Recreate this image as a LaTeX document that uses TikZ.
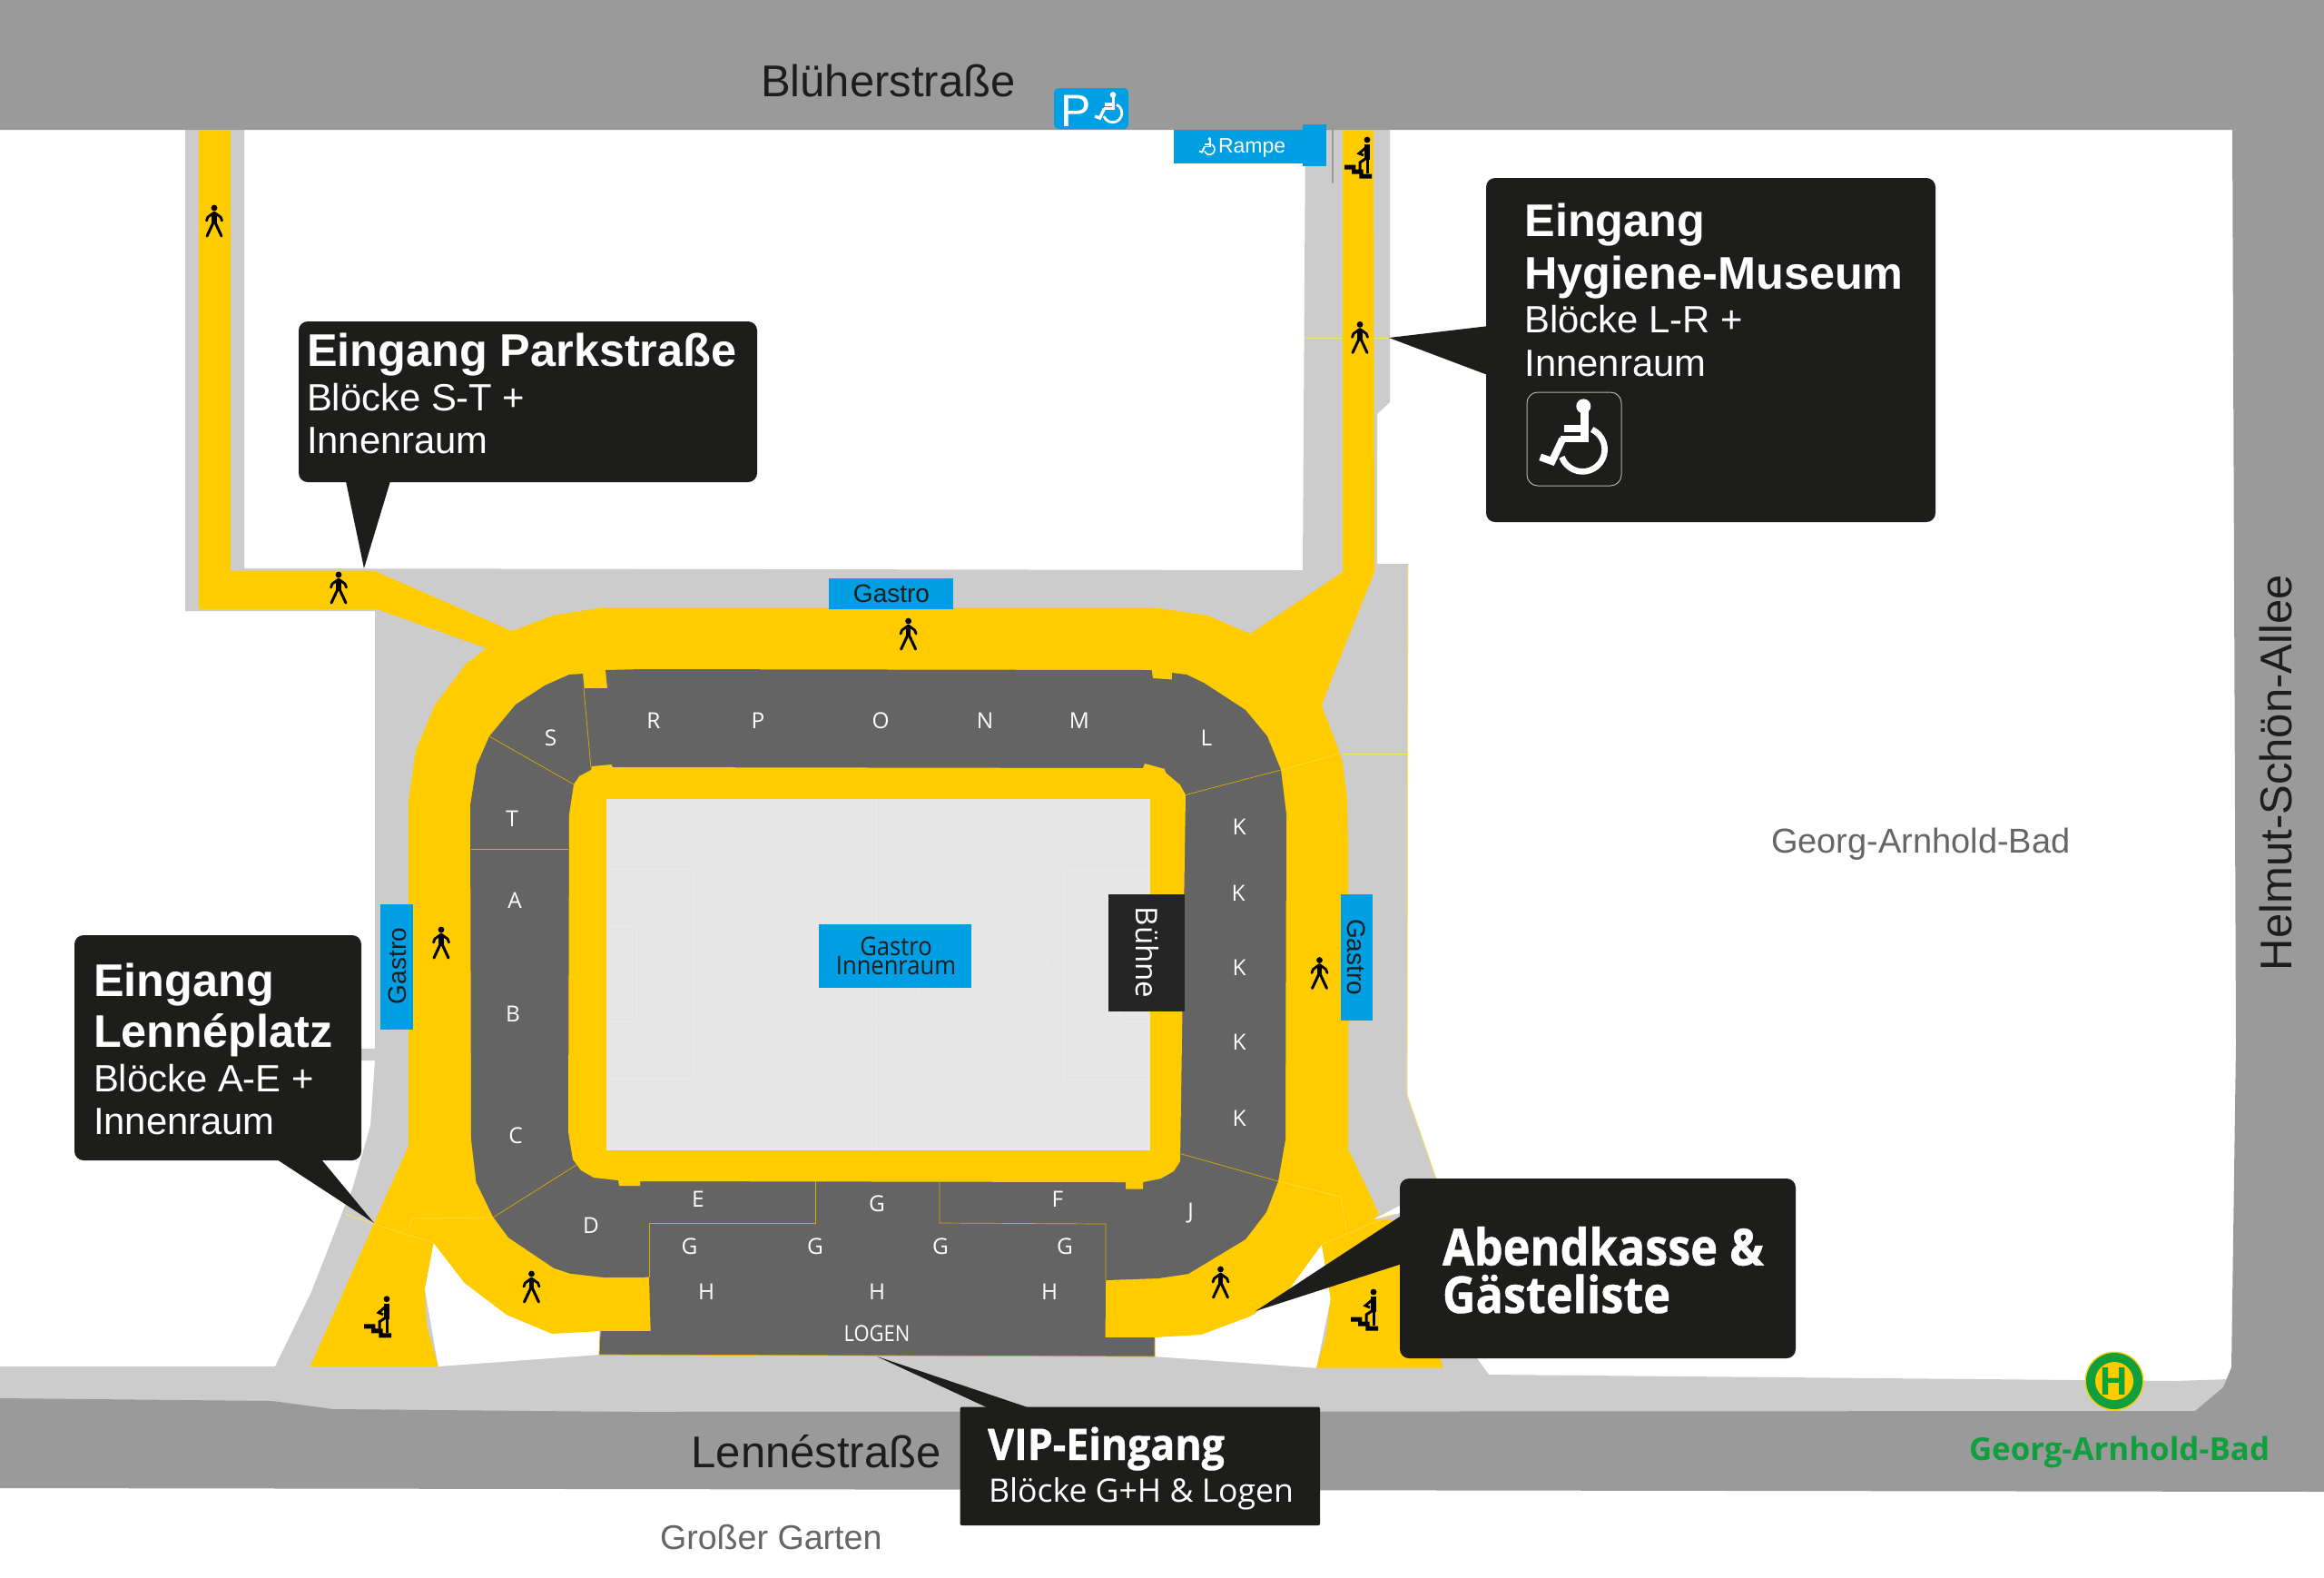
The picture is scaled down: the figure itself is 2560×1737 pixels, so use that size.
\documentclass[tikz,border=0pt]{standalone}
\usepackage{fontspec}
\setmainfont{Liberation Sans}
\newfontfamily\opn{Open Sans}
\newfontfamily\opnc[FakeStretch=0.9]{Open Sans}
\newfontfamily\opnh[FakeStretch=0.9,BoldFeatures={FakeStretch=0.9,FakeBold=0.8}]{Open Sans}
\newfontfamily\opnv[FakeStretch=0.93,BoldFeatures={FakeStretch=0.93,FakeBold=0.8}]{Open Sans}
\definecolor{yel}{HTML}{FFCC00}
\definecolor{paley}{HTML}{FFE15A}
\definecolor{paleon}{HTML}{FFD83A}
\definecolor{stand}{HTML}{646464}
\definecolor{lgray}{HTML}{CCCCCC}
\definecolor{road}{HTML}{9A9A9A}
\definecolor{field}{HTML}{E6E6E6}
\definecolor{fieldline}{HTML}{EBEBEB}
\definecolor{ink}{HTML}{1D1D1B}
\definecolor{blu}{HTML}{009FE3}
\definecolor{buehne}{HTML}{252525}
\definecolor{grn}{HTML}{0F9F3C}
\definecolor{tgray}{HTML}{666666}
\tikzset{
  lab/.style={inner sep=0pt,outer sep=0pt},
  lbase/.style={lab,anchor=base west},
  chead/.style={lbase,text=white,font=\fontsize{25.2}{30}\selectfont\bfseries},
  csub/.style={lbase,text=white,font=\fontsize{20.9}{25}\selectfont},
  opnhead/.style={lbase,text=white,font=\opnh\fontsize{28}{34}\selectfont\bfseries},
  street/.style={lbase,text=ink,font=\fontsize{24.5}{30}\selectfont},
  place/.style={lbase,text=tgray,font=\fontsize{19}{24}\selectfont},
  blk/.style={lab,text=white,font=\opn\fontsize{12.2}{14}\selectfont},
  gas/.style={lab,text=ink,font=\fontsize{14}{16}\selectfont},
  bluebox/.style={fill=blu},
  callout/.style={fill=ink,rounded corners=5pt},
  tip/.style={fill=ink},
  thin/.style={draw=yel!85!black,line width=0.35pt},
  pale/.style={draw=paley,line width=0.4pt},
  paleonyel/.style={draw=paleon,line width=0.4pt},
  fl/.style={draw=fieldline,line width=0.4pt},
}
% wheelchair: centre x, y, scale, colour
\newcommand{\wchair}[4]{%
  \pgfmathsetmacro{\wlw}{#3*0.5}%
  \begin{scope}[shift={(#1,#2)},scale=#3]
    \fill[#4] (36,-100) circle (24);
    \fill[#4] (26,-82) rectangle (53,18);
    \fill[#4] (-27,-37) rectangle (33,-14);
    \fill[#4] (-39,-2) rectangle (53,18);
    \draw[#4,line width=24*\wlw pt,line join=miter] (-33,8) -- (-68,82) -- (-107,68);
    \draw[#4,line width=20*\wlw pt] (33,43) ++(-65:73) arc[start angle=-65,end angle=160,radius=73];
  \end{scope}}
% walking figure
\newcommand{\walker}[2]{%
  \begin{scope}[shift={(#1,#2)}]
    \fill[black] (0,-16) circle (3.4);
    \draw[black,line width=2.8pt] (0,-10) -- (0,1);
    \draw[black,line width=1.4pt,line cap=round,line join=round] (-8.5,-2) -- (-7,-6) -- (0,-11) -- (7,-6) -- (8.5,-2);
    \draw[black,line width=1.5pt,line cap=round] (-8,15) -- (-1,0) (8,15) -- (1,0);
  \end{scope}}
% figure on stairs
\newcommand{\climber}[2]{%
  \begin{scope}[shift={(#1,#2)}]
    \fill[black] (10,-20) circle (3.4);
    \draw[black,line width=3.2pt] (9.7,-15) -- (9.7,2);
    \draw[black,line width=1.7pt] (10.5,1) -- (10.5,17);
    \draw[black,line width=1.4pt] (8,-11) -- (1,-5) -- (6,-3);
    \draw[black,line width=1.5pt] (8,1) -- (2,5) -- (2,13);
    \fill[black] (-15,7.7) rectangle (-2.7,12.7) (-7,12.7) rectangle (5.7,17.7) (1.3,17.7) rectangle (15,22.7);
  \end{scope}}
\begin{document}
\begin{tikzpicture}[x=0.5pt,y=-0.5pt]
\useasboundingbox (0,0) rectangle (2560,1737);
\fill[white] (0,0) rectangle (2560,1737);
% light grey paths
\fill[lgray] (204,143) -- (269,143) -- (269,626) -- (1435,628) -- (1438,143) -- (1531,143) -- (1531,443) -- (1517,456) -- (1517,621) -- (1551,621) -- (1550,1206) -- (1582,1298) -- (1627,1496) -- (1640,1514) -- (2395,1521) -- (2456,1519) -- (2456,1570) -- (0,1570) -- (0,1505) -- (303,1505) -- (343,1423) -- (380,1328) -- (388,1310) -- (408,1240) -- (413,1168) -- (398,1168) -- (398,1155) -- (413,1155) -- (413,673) -- (204,673) -- cycle;
% white gaps between the ramps
\fill[white] (477,1369) -- (530,1400) -- (600,1440) -- (661,1450) -- (661,1492) -- (482.7,1505) -- (468,1420) -- cycle;
\fill[white] (1456,1371) -- (1382,1448) -- (1271,1465) -- (1271,1494) -- (1450,1506.7) -- (1466,1430) -- cycle;
% roads
\fill[road] (0,0) -- (2560,0) -- (2560,1643) -- (0,1639) -- (0,1540) -- (300,1543) -- (367,1552) -- (700,1555) -- (2418,1554) -- (2449,1528) -- (2458,1506) -- (2463,1150) -- (2459,143) -- (0,143) -- cycle;
% thin line by the ramp
\draw[road,line width=1.2pt] (1468,142) -- (1468,202);
% pale edges of the grey area
\path[pale] (1551,621) -- (1550,1206) -- (1582,1298);
\path[pale] (1479,830.6) -- (1551,830.6);
\path[pale] (1437,372) -- (1530,372);
\path[pale] (380,1337) -- (412,1348);
% yellow walkways
\fill[yel] (219,143.5) -- (254,143.5) -- (254,628.6) -- (412,628.6) -- (564,695) -- (612,677) -- (667,669) -- (1268.5,669) -- (1329,677.5) -- (1377,698) -- (1479,630) -- (1479,143.5) -- (1513,143.5) -- (1514,630) -- (1470,740) -- (1456,777) -- (1476,830) -- (1479,840) -- (1484,880) -- (1485,940) -- (1485,1266) -- (1492,1280) -- (1519,1337) -- (1513,1343) -- (1533,1343) -- (1590,1506.7) -- (1450,1506.7) -- (1461,1470) -- (1465.7,1430) -- (1456,1370.7) -- (1420,1420) -- (1376.7,1450) -- (1323,1470) -- (1271,1473) -- (1217,1473) -- (716.7,1466) -- (661.7,1466) -- (608,1469) -- (558,1448) -- (511.7,1413) -- (477.7,1369) -- (467.7,1420) -- (470,1460) -- (482.7,1505) -- (341.7,1505) -- (373,1435) -- (411.7,1348) -- (450,1262) -- (450,883) -- (458,826.7) -- (479,776.7) -- (513,731.7) -- (535.7,714) -- (415.5,671) -- (219,671) -- cycle;
% pale lines on the walkways
\path[paleonyel] (412,1348) -- (477.7,1369);
\path[paleonyel] (449,1357) -- (454,1342) -- (543,1341);
\path[paleonyel] (1411,848) -- (1476,830);
\path[paleonyel] (1408,1301) -- (1476.7,1318) -- (1483,1355);
\path[paleonyel] (1456,1370.7) -- (1533,1338);
% stands
\fill[stand] (518,887) -- (525,843) -- (539,811) -- (568,776) -- (600,755) -- (627,743) -- (642,742) -- (643.5,758) -- (669,758) -- (667,738) -- (707,737) -- (1268.5,738) -- (1270,747) -- (1291,748.5) -- (1291,741) -- (1307,743) -- (1326,752) -- (1372,782) -- (1396,811) -- (1411,848) -- (1417,897) -- (1416,1255) -- (1408,1301) -- (1395,1335) -- (1372,1365) -- (1309,1403) -- (1276,1408) -- (1218,1410) -- (1217.6,1473) -- (1272,1473) -- (1272,1494) -- (660,1492) -- (661.7,1466) -- (716.7,1466) -- (715,1406.7) -- (665,1407) -- (628,1402.7) -- (610,1396.7) -- (560,1363) -- (543,1340) -- (524.5,1302) -- (519,1255) -- cycle;
% inner walkway
\fill[yel] (627,897) -- (632,864) -- (638,855) -- (651,848) -- (652,844) -- (673.5,842) -- (675,845) -- (1259,846) -- (1261,841) -- (1283,847) -- (1284,851) -- (1300,864.5) -- (1306,875.5) -- (1300,1279) -- (1293,1290) -- (1279,1298) -- (1259,1302) -- (1259,1309.5) -- (1240,1309.5) -- (1240,1302) -- (705,1301) -- (705,1306) -- (682,1306) -- (681,1300) -- (654,1297) -- (640,1289) -- (631,1277) -- (626,1247) -- cycle;
% pitch
\fill[field] (668,880) -- (1267,880) -- (1267,1266.5) -- (668,1266.5) -- cycle;
\path[fl] (965.5,880) -- (965.5,1266.5) (965.5,1073) circle (50);
\path[fl] (668,957.5) -- (763,957.5) -- (763,1187) -- (668,1187) (668,1020) -- (701,1020) -- (701,1125) -- (668,1125);
\path[fl] (763,1032) .. controls (790,1060) and (790,1085) .. (763,1112);
\path[fl] (1267,958) -- (1171.6,958) -- (1171.6,1189) -- (1267,1189) (1267,1020) -- (1233,1020) -- (1233,1125) -- (1267,1125);
\path[fl] (1171.6,1032) .. controls (1144,1060) and (1144,1085) .. (1171.6,1112);
% thin block borders
\path[thin] (643,758) -- (651,846);
\path[thin] (539,811) -- (633,864.5);
\path[thin] (519,935) -- (626,935);
\path[thin] (1306,875.5) -- (1411,848);
\path[thin] (635,1283) -- (543,1341);
\path[thin] (898,1301) -- (898,1347) -- (715,1347) -- (715,1407);
\path[thin] (1035,1301) -- (1035,1347) -- (1218,1348) -- (1218,1410);
\path[thin] (661,1466) -- (660,1492) -- (1272,1494) -- (1272,1473);
\path[thin] (1298,1270) -- (1408,1301);
% sliver next to the box-office callout
\fill[white] (1541.7,1328) -- (1513,1343) -- (1533,1338) -- (1543,1336) -- cycle;
% blue signs
\fill[bluebox] (913,637) rectangle (1050,671);
\fill[bluebox] (902,1017.5) rectangle (1070,1088);
\fill[bluebox] (1477,985) rectangle (1512,1124);
\fill[bluebox] (419,996) rectangle (455,1134);
\fill[bluebox,rounded corners=2.5pt] (1161,97) rectangle (1243,142);
\fill[bluebox] (1293,143) rectangle (1438,180);
\fill[bluebox] (1435,137) rectangle (1461,183);
\fill[buehne] (1221,985) rectangle (1305,1113.5);
% sign texts
\node[gas] (g1) at (982,654) {Gastro};
\node[gas,rotate=90] (g2) at (438,1064) {Gastro};
\node[gas,rotate=-90] (g3) at (1494,1054) {Gastro};
\node[lab,text=ink,align=center,font=\opnc\fontsize{14.2}{10.5}\selectfont] (g4) at (987,1052.5) {Gastro\\Innenraum};
\node[lab,text=white,rotate=-90,font=\opn\fontsize{16.5}{18}\selectfont] (buehne) at (1264,1049) {Bühne};
\node[lbase,text=white,font=\fontsize{25}{30}\selectfont] (pk) at (1168,139) {P};
\wchair{1221}{118.5}{0.14}{white}
\node[lbase,text=white,font=\fontsize{11.5}{14}\selectfont] (rampe) at (1342,168) {Rampe};
\wchair{1329.5}{161}{0.08}{white}
% block letters
\node[blk] (bR) at (720,793.5) {R};
\node[blk] (bP) at (835,793.5) {P};
\node[blk] (bO) at (970,793.5) {O};
\node[blk] (bN) at (1085,793.5) {N};
\node[blk] (bM) at (1189,793.5) {M};
\node[blk] (bL) at (1329,812.5) {L};
\node[blk] (bS) at (606.5,812.5) {S};
\node[blk] (bT) at (564,901.5) {T};
\node[blk] (bA) at (567,991.5) {A};
\node[blk] (bB) at (565,1117) {B};
\node[blk] (bC) at (568,1250.5) {C};
\node[blk] (bK1) at (1365,910.5) {K};
\node[blk] (bK2) at (1364,983.5) {K};
\node[blk] (bK3) at (1365,1065.5) {K};
\node[blk] (bK4) at (1365,1147.5) {K};
\node[blk] (bK5) at (1365,1231.5) {K};
\node[blk] (bE) at (769,1320.5) {E};
\node[blk] (bG0) at (966,1325.5) {G};
\node[blk] (bF) at (1165,1320.5) {F};
\node[blk] (bJ) at (1311.6,1336.5) {J};
\node[blk] (bD) at (651,1349.5) {D};
\node[blk] (bG1) at (759.5,1373) {G};
\node[blk] (bG2) at (898,1373) {G};
\node[blk] (bG3) at (1036,1373) {G};
\node[blk] (bG4) at (1173,1373) {G};
\node[blk] (bH1) at (778,1422.5) {H};
\node[blk] (bH2) at (966,1422.5) {H};
\node[blk] (bH3) at (1156,1422.5) {H};
\node[blk,font=\opnc\fontsize{12.2}{14}\selectfont] (blog) at (966,1468.5) {LOGEN};
% figures
\walker{236}{245}
\walker{373}{649}
\walker{1000.6}{700}
\walker{1453.5}{1073.5}
\walker{1498}{373.4}
\walker{486}{1040}
\walker{585.5}{1419}
\walker{1344.5}{1414}
\climber{1496}{174}
\climber{416}{1450.7}
\climber{1503}{1443}
% street names
\node[street] (s1) at (838,106) {Blüherstraße};
\node[street] (s2) at (761.6,1616) {Lennéstraße};
\node[street,rotate=90] (s3) at (2524,1069) {Helmut-Schön-Allee};
\node[lbase,text=tgray,font=\fontsize{18.8}{24}\selectfont] (p1) at (727,1706.5) {Großer Garten};
\node[place] (p2) at (1951,939) {Georg-Arnhold-Bad};
% bus stop
\fill[yel] (2329,1521) circle (32.5);
\fill[grn] (2329,1521) circle (31);
\fill[yel] (2329,1521) circle (21);
\node[lab,text=grn,font=\opn\fontsize{21}{24}\selectfont\bfseries] (stopH) at (2329,1521) {H};
\node[lbase,text=grn,font=\opn\fontsize{17.4}{20}\selectfont\bfseries] (stop) at (2169,1608) {Georg-Arnhold-Bad};
% callouts
\path[callout] (329,354) rectangle (834,531);
\fill[tip] (381,530) -- (430,530) -- (401,626) -- cycle;
\node[chead] (pk1) at (338,403) {Eingang Parkstraße};
\node[csub] (pk2) at (338,452.5) {Blöcke S-T +};
\node[csub] (pk3) at (338,499) {Innenraum};
\path[callout] (1637,196) rectangle (2132,575);
\fill[tip] (1640,359) -- (1640,413.5) -- (1530,372) -- cycle;
\node[chead] (hy1) at (1679.5,260) {Eingang};
\node[chead] (hy2) at (1679.5,318) {Hygiene-Museum};
\node[csub] (hy3) at (1679.5,366.5) {Blöcke L-R +};
\node[csub] (hy4) at (1679.5,414.5) {Innenraum};
\draw[white!70!black,line width=0.5pt,rounded corners=6pt] (1682,432) rectangle (1786,535);
\wchair{1732.3}{480.7}{0.3333}{white}
\path[callout] (82,1030) rectangle (398,1278);
\fill[tip] (305,1277) -- (354,1277) -- (412,1347) -- cycle;
\node[chead] (le1) at (103,1097) {Eingang};
\node[chead] (le2) at (103,1153) {Lennéplatz};
\node[csub] (le3) at (103,1202) {Blöcke A-E +};
\node[csub] (le4) at (103,1249) {Innenraum};
\path[callout] (1542,1298) rectangle (1978,1496);
\fill[tip] (1545,1338) -- (1545,1391.7) -- (1383,1444) -- cycle;
\node[opnhead] (ab1) at (1589,1393.5) {Abendkasse \&};
\node[opnhead] (ab2) at (1589,1446) {Gästeliste};
\path[fill=ink,rounded corners=1pt] (1057.6,1549.5) rectangle (1454,1680);
\fill[tip] (1089,1551) -- (1135,1551) -- (966,1494) -- cycle;
\node[lbase,text=white,font=\opnv\fontsize{24}{28}\selectfont\bfseries] (vi1) at (1088,1608) {VIP-Eingang};
\node[lbase,text=white,font=\opn\fontsize{17.8}{22}\selectfont] (vi2) at (1089,1654) {Blöcke G+H \& Logen};
\end{tikzpicture}
\end{document}
